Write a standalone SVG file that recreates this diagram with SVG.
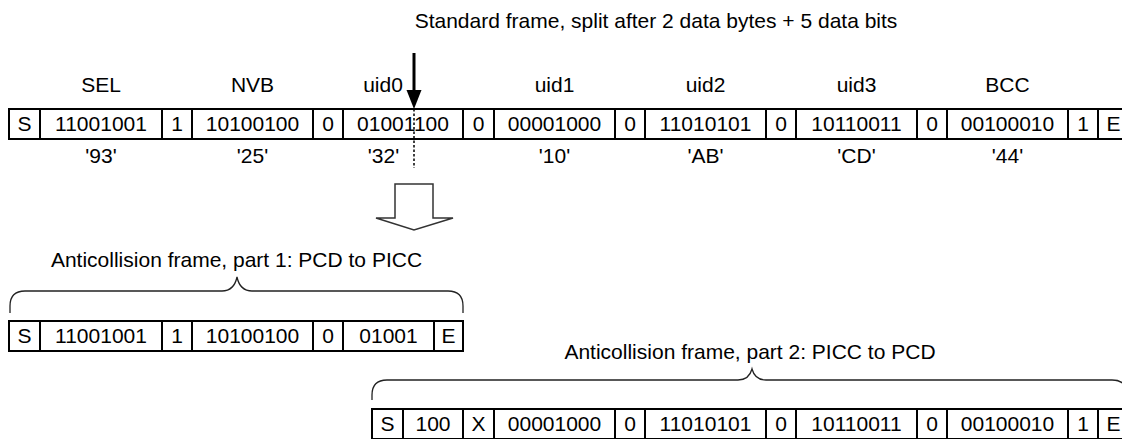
<svg xmlns="http://www.w3.org/2000/svg" width="1122" height="439" viewBox="0 0 1122 439">
<defs>
<style>
text{font-family:"Liberation Sans",Arial,sans-serif;font-size:21px;fill:#000;text-anchor:middle}
.box{fill:#fff;stroke:#000;stroke-width:2}
.sep{stroke:#000;stroke-width:2}
.brace{fill:none;stroke:#222;stroke-width:1.3}
</style>
</defs>
<rect width="1122" height="439" fill="#fff"/>
<text x="656" y="28">Standard frame, split after 2 data bytes + 5 data bits</text>

<g id="frame-standard">
<text x="101" y="92">SEL</text>
<text x="252.5" y="92">NVB</text>
<text x="383" y="92">uid0</text>
<text x="554.5" y="92">uid1</text>
<text x="705.5" y="92">uid2</text>
<text x="856.5" y="92">uid3</text>
<text x="1007.5" y="92">BCC</text>
<rect class="box" x="9" y="109" width="1120" height="30"/>
<path class="sep" d="M40,109V139M162,109V139M192,109V139M313,109V139M343,109V139M463,109V139M494,109V139M615,109V139M645,109V139M766,109V139M796,109V139M917,109V139M947,109V139M1068,109V139M1098,109V139"/>
<text x="24.5" y="131">S</text>
<text x="101" y="131">11001001</text>
<text x="177" y="131">1</text>
<text x="252.5" y="131">10100100</text>
<text x="328" y="131">0</text>
<text x="403" y="131">01001100</text>
<text x="478.5" y="131">0</text>
<text x="554.5" y="131">00001000</text>
<text x="630" y="131">0</text>
<text x="705.5" y="131">11010101</text>
<text x="781" y="131">0</text>
<text x="856.5" y="131">10110011</text>
<text x="932" y="131">0</text>
<text x="1007.5" y="131">00100010</text>
<text x="1083" y="131">1</text>
<text x="1113.5" y="131">E</text>
<text x="101" y="163">'93'</text>
<text x="252.5" y="163">'25'</text>
<text x="383.5" y="163">'32'</text>
<text x="554.5" y="163">'10'</text>
<text x="705.5" y="163">'AB'</text>
<text x="856.5" y="163">'CD'</text>
<text x="1007.5" y="163">'44'</text>
</g>

<g id="frame-part1">
<text x="236.5" y="267">Anticollision frame, part 1: PCD to PICC</text>
<rect class="box" x="9" y="321" width="454" height="30"/>
<path class="sep" d="M40,321V351M162,321V351M192,321V351M313,321V351M343,321V351M434,321V351"/>
<text x="24.5" y="343">S</text>
<text x="101" y="343">11001001</text>
<text x="177" y="343">1</text>
<text x="252.5" y="343">10100100</text>
<text x="328" y="343">0</text>
<text x="388.5" y="343">01001</text>
<text x="448.5" y="343">E</text>
</g>

<g id="frame-part2">
<text x="750" y="359">Anticollision frame, part 2: PICC to PCD</text>
<rect class="box" x="372" y="409" width="757" height="30"/>
<path class="sep" d="M403,409V439M463,409V439M494,409V439M615,409V439M645,409V439M766,409V439M796,409V439M917,409V439M947,409V439M1068,409V439M1098,409V439"/>
<text x="387.5" y="431">S</text>
<text x="433" y="431">100</text>
<text x="478.5" y="431">X</text>
<text x="554.5" y="431">00001000</text>
<text x="630" y="431">0</text>
<text x="705.5" y="431">11010101</text>
<text x="781" y="431">0</text>
<text x="856.5" y="431">10110011</text>
<text x="932" y="431">0</text>
<text x="1007.5" y="431">00100010</text>
<text x="1083" y="431">1</text>
<text x="1113.5" y="431">E</text>
</g>

<g id="connectors">
<line x1="414" y1="53" x2="414" y2="92" stroke="#000" stroke-width="3"/>
<polygon points="406.5,90 421.5,90 414,109" fill="#000"/>
<line x1="414" y1="109" x2="414" y2="168" stroke="#000" stroke-width="1.5" stroke-dasharray="2.5,2"/>
<polygon points="395,184 433,184 433,218 453,218 414,230 376,218 395,218" fill="#fff" stroke="#333" stroke-width="1.5"/>
<path class="brace" d="M10,313V306Q10,291 25,291H222Q234,291 237,277Q240,291 252,291H448Q463,291 463,306V313"/>
<path class="brace" d="M372,400V395Q372,380 387,380H738Q749,380 752,369Q755,380 766,380H1112Q1127,380 1127,395V400"/>
</g>
</svg>
